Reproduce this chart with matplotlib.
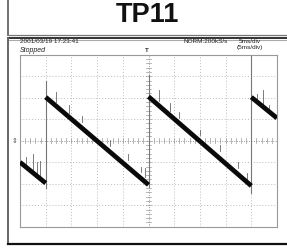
import numpy as np
import matplotlib
matplotlib.use("Agg")
import matplotlib.pyplot as plt
from matplotlib import font_manager as fm

# ---- data (time in ms, voltage in mV) ----
trace_t = [0, 5, 5, 25, 25, 45, 45, 50]
trace_v = [-200, -395, 405, -410, 410, -420, 405, 210]

edge_t = [5, 25, 45]
edge_low = [-440, -430, -490]
edge_high = [560, 610, 800]

spike_t = [1.2, 2.5, 3.3, 3.9, 7.0, 9.5, 12.0, 17.5, 21.0, 23.5, 24.3,
           27.0, 29.2, 31.0, 35.0, 38.9, 42.5, 44.2, 46.2, 47.3, 48.5]
spike_v0 = [-230, -270, -300, -330, 360, 260, 170, -50, -180, -290, -340,
            370, 280, 210, 50, -100, -250, -360, 340, 300, 260]
spike_v1 = [-150, -120, -200, -190, 450, 330, 230, 10, -120, -240, -250,
            470, 350, 270, 100, -40, -200, -300, 430, 470, 330]

title = "TP11"
date_label = "2001/03/19 17:23:41"
status_label = "Stopped"
ch_label = "CH1=200mV"
coupling_label = "AC"
probe_label = "10:1"
rate_label = "NORM:200kS/s"
tdiv_label = "5ms/div"
tdiv2_label = "(5ms/div)"

names = {f.name for f in fm.fontManager.ttflist}
if "Liberation Sans Narrow" in names:
    title_family, title_size = "Liberation Sans Narrow", 22
else:
    title_family, title_size = "Liberation Sans", 19.5

W, H = 287, 248
fig = plt.figure(figsize=(W / 100, H / 100), dpi=100)
fig.patch.set_facecolor("white")

bg = fig.add_axes([0, 0, 1, 1])
bg.set_xlim(0, W)
bg.set_ylim(H, 0)
bg.axis("off")

# borders
bg.plot([8.3, 8.3], [0, 35], color="#666666", lw=1.3)
bg.plot([8.3, W], [35, 35], color="#777777", lw=0.9)
bg.plot([8.3, W], [38.3, 38.3], color="#333333", lw=1.4)
bg.plot([8.3, W], [40, 40], color="#aaaaaa", lw=0.8)
bg.plot([8.3, 8.3], [38, 243.5], color="#666666", lw=1.4)
bg.plot([8.3, W], [243.5, 243.5], color="#111111", lw=1.6)

bg.text(147.5, 14.5, title, ha="center", va="center", fontsize=title_size,
        fontweight="bold", family=[title_family, "DejaVu Sans"], color="#111111")

small = dict(family=["Liberation Sans", "DejaVu Sans"], fontsize=4.6, color="#222222",
             va="center", ha="left")
bg.text(20.5, 41.3, date_label, **small)
bg.text(20, 50.5, status_label, style="italic", **{**small, "fontsize": 5.0})
bg.text(43, 57.5, ch_label, **small)
bg.text(38, 63.5, coupling_label, **small)
bg.text(51.7, 63.5, probe_label, **small)
bg.text(183, 41.3, rate_label, **small)
bg.text(239, 41.3, tdiv_label, **small)
bg.text(236.7, 47.7, tdiv2_label, **small)
bg.text(147.3, 50.5, "T", ha="center", va="center", fontsize=4, fontweight="bold",
        color="#444444", family="DejaVu Sans")
bg.text(15, 140.7, "\u21d5", ha="center", va="center", fontsize=5, color="#555555",
        family="DejaVu Sans")

# scope screen
x0, x1, y0, y1 = 20, 277, 54.7, 226.7
ax = fig.add_axes([x0 / W, (H - y1) / H, (x1 - x0) / W, (y1 - y0) / H])
ax.set_xlim(0, 50)
ax.set_ylim(-800, 800)
ax.set_xticks([])
ax.set_yticks([])
for s in ax.spines.values():
    s.set_color("#999999")
    s.set_linewidth(0.8)

for x in range(5, 50, 5):
    if x != 25:
        ax.axvline(x, color="#bbbbbb", lw=0.7, ls=(0, (1, 2)), zorder=1)
for y in range(-600, 800, 200):
    if y != 0:
        ax.axhline(y, color="#bbbbbb", lw=0.7, ls=(0, (1, 2)), zorder=1)
ax.axvline(25, color="#999999", lw=0.7, ls=(0, (1, 1.5)), zorder=1)
ax.axhline(0, color="#999999", lw=0.7, ls=(0, (1, 1.5)), zorder=1)
for t in np.arange(1, 50, 1):
    ax.plot([t, t], [-22, 22], color="#999999", lw=0.5, zorder=1)
for v in np.arange(-760, 800, 40):
    ax.plot([24.55, 25.45], [v, v], color="#999999", lw=0.5, zorder=1)

# edges (grey thin)
for t, lo, hi in zip(edge_t, edge_low, edge_high):
    ax.plot([t, t], [lo, hi], color="#777777", lw=0.8, zorder=2)

# spikes
for t, a, b in zip(spike_t, spike_v0, spike_v1):
    ax.plot([t, t], [a, b], color="#666666", lw=0.6, zorder=2)

# sloped segments (thick black band)
for i in range(0, len(trace_t), 2):
    ax.plot(trace_t[i:i + 2], trace_v[i:i + 2], color="#0a0a0a", lw=3.4,
            solid_capstyle="butt", zorder=3)

fig.savefig("out.png", dpi=100, facecolor="white")
